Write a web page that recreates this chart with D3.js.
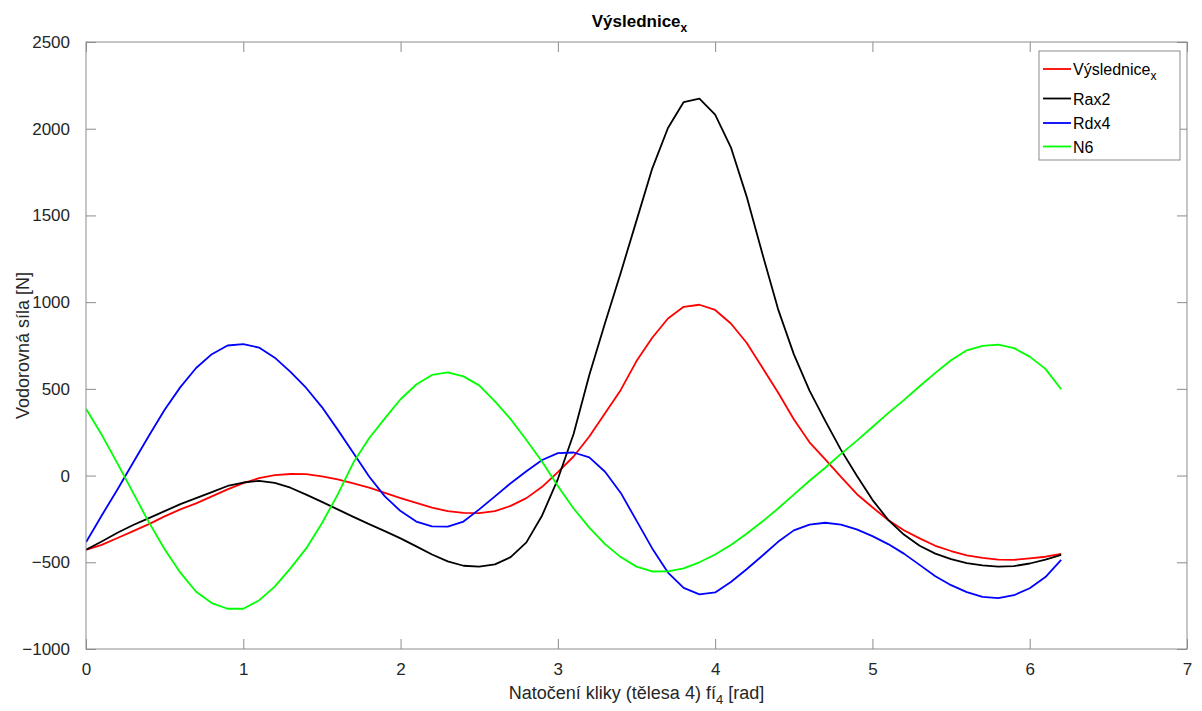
<!DOCTYPE html>
<html>
<head>
<meta charset="utf-8">
<script src="https://cdn.jsdelivr.net/npm/d3@7"></script>
<style>
  html, body { margin: 0; padding: 0; background: #fff; }
  svg { display: block; }
</style>
</head>
<body>
<div id="chart"></div>
<script>
// angle of crank (rad)
const phi = [
  0.0, 0.1, 0.2, 0.3, 0.4, 0.5, 0.6, 0.7, 0.8, 0.9,
  1.0, 1.1, 1.2, 1.3, 1.4, 1.5, 1.6, 1.7, 1.8, 1.9,
  2.0, 2.1, 2.2, 2.3, 2.4, 2.5, 2.6, 2.7, 2.8, 2.9,
  3.0, 3.1, 3.2, 3.3, 3.4, 3.5, 3.6, 3.7, 3.8, 3.9,
  4.0, 4.1, 4.2, 4.3, 4.4, 4.5, 4.6, 4.7, 4.8, 4.9,
  5.0, 5.1, 5.2, 5.3, 5.4, 5.5, 5.6, 5.7, 5.8, 5.9,
  6.0, 6.1, 6.2
];

const vyslednice = [
  -428, -400, -360, -320, -280, -235, -195, -160, -120, -80,
  -44, -15, 2, 9, 8, -5, -22, -45, -70, -100,
  -130, -158, -185, -205, -215, -217, -205, -175, -130, -65,
  20, 110, 225, 360, 494, 660, 795, 906, 973, 985,
  955, 877, 766, 623, 479, 325, 192, 93, -7, -106,
  -183, -256, -315, -362, -405, -435, -460, -475, -485, -486,
  -478, -468, -452
];

const rax2 = [
  -428, -380, -330, -285, -245, -205, -165, -130, -95, -60,
  -40, -30, -42, -70, -110, -152, -195, -238, -280, -320,
  -362, -408, -455, -495, -520, -525, -512, -470, -385, -230,
  -20, 240, 580, 880, 1170, 1470, 1770, 2004, 2154, 2174,
  2081, 1893, 1610, 1280, 960, 700, 490, 315, 148, 0,
  -140, -255, -340, -405, -450, -482, -505, -518, -525, -522,
  -507, -485, -457
];

const rdx4 = [
  -385, -230, -80, 75, 230, 380, 510, 620, 700, 750,
  758, 738, 680, 598, 505, 395, 265, 130, -5, -120,
  -205, -265, -293, -294, -265, -195, -120, -44, 25, 90,
  129, 133, 105, 22, -100, -260, -420, -559, -648, -685,
  -674, -614, -540, -462, -382, -316, -283, -272, -283, -310,
  -349, -395, -450, -515, -580, -632, -672, -700, -707, -690,
  -650, -585, -486
];

const n6 = [
  385, 235, 70, -100, -270, -425, -560, -670, -735, -768,
  -768, -720, -640, -535, -420, -275, -110, 75, 215, 330,
  440, 525, 580, 595, 572, 520, 428, 325, 205, 80,
  -60, -190, -300, -395, -470, -525, -553, -552, -535, -500,
  -455, -400, -335, -265, -190, -110, -30, 45, 125, 200,
  280, 360, 435, 515, 592, 665, 722, 748, 755, 735,
  686, 615, 498
];

const xTicks = [0, 1, 2, 3, 4, 5, 6, 7];
const yTicks = [-1000, -500, 0, 500, 1000, 1500, 2000, 2500];

const seriesNames = ["Výslednice", "Rax2", "Rdx4", "N6"];
const seriesColors = ["#ff0000", "#000000", "#0000ff", "#00ff00"];
const seriesValues = [vyslednice, rax2, rdx4, n6];

const width = 1202, height = 711;
const margin = { left: 86, right: 15, top: 42, bottom: 62 };
const font = "'Liberation Sans', Arial, Helvetica, sans-serif";
const axisColor = "#8c8c8c";
const textColor = "#262626";

const svg = d3.select("#chart").append("svg")
    .attr("width", width)
    .attr("height", height);

const x = d3.scaleLinear().domain([0, 7]).range([margin.left, width - margin.right]);
const y = d3.scaleLinear().domain([-1000, 2500]).range([height - margin.bottom, margin.top]);

const x0 = x.range()[0], x1 = x.range()[1];
const y0 = y.range()[0], y1 = y.range()[1];

// plot lines, clipped to axes box
svg.append("defs").append("clipPath").attr("id", "plot-clip")
    .append("rect")
    .attr("x", x0).attr("y", y1)
    .attr("width", x1 - x0).attr("height", y0 - y1);

const line = d3.line()
    .x((d, i) => x(phi[i]))
    .y(d => y(d));

const plot = svg.append("g").attr("clip-path", "url(#plot-clip)");
seriesValues.forEach((vals, k) => {
    plot.append("path")
        .datum(vals)
        .attr("fill", "none")
        .attr("stroke", seriesColors[k])
        .attr("stroke-width", 1.8)
        .attr("stroke-linejoin", "round")
        .attr("d", line);
});

// axes box with inward ticks on all sides (MATLAB style)
const tickLen = 10;

svg.append("rect")
    .attr("x", x0).attr("y", y1)
    .attr("width", x1 - x0).attr("height", y0 - y1)
    .attr("fill", "none")
    .attr("stroke", axisColor)
    .attr("stroke-width", 1);

const fmt = d3.format("d");
const bottomAxis = d3.axisBottom(x).tickValues(xTicks).tickFormat(fmt).tickSizeInner(-tickLen).tickSizeOuter(0).tickPadding(14);
const topAxis = d3.axisTop(x).tickValues(xTicks).tickSizeInner(-tickLen).tickSizeOuter(0).tickFormat("");
const leftAxis = d3.axisLeft(y).tickValues(yTicks).tickFormat(fmt).tickSizeInner(-tickLen).tickSizeOuter(0).tickPadding(16);
const rightAxis = d3.axisRight(y).tickValues(yTicks).tickSizeInner(-tickLen).tickSizeOuter(0).tickFormat("");

function styleAxis(g) {
    g.select(".domain").remove();
    g.selectAll(".tick line").attr("stroke", axisColor);
    g.selectAll(".tick text")
        .attr("fill", textColor)
        .attr("font-size", 17)
        .attr("font-family", font);
}

svg.append("g").attr("transform", `translate(0,${y0})`).call(bottomAxis).call(styleAxis);
svg.append("g").attr("transform", `translate(0,${y1})`).call(topAxis).call(styleAxis);
svg.append("g").attr("transform", `translate(${x0},0)`).call(leftAxis).call(styleAxis);
svg.append("g").attr("transform", `translate(${x1},0)`).call(rightAxis).call(styleAxis);

// title
const title = svg.append("text")
    .attr("x", (x0 + x1) / 2 + 3)
    .attr("y", 27)
    .attr("text-anchor", "middle")
    .attr("font-family", font)
    .attr("font-size", 17)
    .attr("font-weight", "bold")
    .attr("fill", "#000");
title.append("tspan").text("Výslednice");
title.append("tspan").attr("font-size", 12).attr("dy", 5).text("x");

// x label
const xLabel = svg.append("text")
    .attr("x", (x0 + x1) / 2)
    .attr("y", 699)
    .attr("text-anchor", "middle")
    .attr("font-family", font)
    .attr("font-size", 18)
    .attr("fill", textColor);
xLabel.append("tspan").text("Natočení kliky (tělesa 4) fí");
xLabel.append("tspan").attr("font-size", 13).attr("dy", 5).text("4");
xLabel.append("tspan").attr("dy", -5).text(" [rad]");

// y label
svg.append("text")
    .attr("transform", `translate(29,${(y0 + y1) / 2}) rotate(-90)`)
    .attr("text-anchor", "middle")
    .attr("font-family", font)
    .attr("font-size", 18)
    .attr("fill", textColor)
    .text("Vodorovná síla [N]");

// legend
const legend = svg.append("g").attr("font-family", font);
const legX = 1039, legY = 51, legW = 141, legH = 109;
legend.append("rect")
    .attr("x", legX).attr("y", legY)
    .attr("width", legW).attr("height", legH)
    .attr("fill", "#fff")
    .attr("stroke", axisColor)
    .attr("stroke-width", 1);

const rowY = [69, 98.5, 123, 146.5];
seriesNames.forEach((name, k) => {
    legend.append("line")
        .attr("x1", legX + 4).attr("x2", legX + 32)
        .attr("y1", rowY[k]).attr("y2", rowY[k])
        .attr("stroke", seriesColors[k])
        .attr("stroke-width", 1.8);
    const t = legend.append("text")
        .attr("x", legX + 34)
        .attr("y", rowY[k] + 6)
        .attr("font-size", 16)
        .attr("fill", "#000");
    t.append("tspan").text(name);
    if (k === 0) t.append("tspan").attr("font-size", 12).attr("dy", 5).text("x");
});
</script>
</body>
</html>
